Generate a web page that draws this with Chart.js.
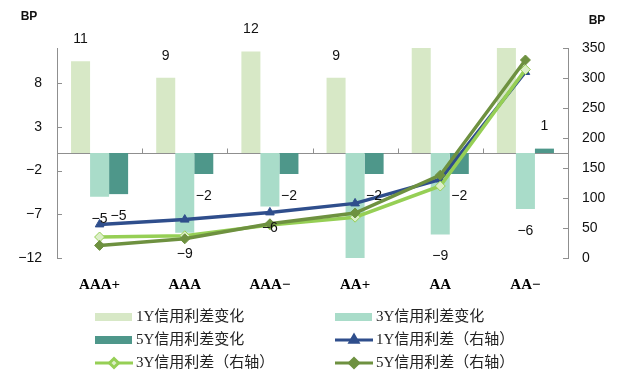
<!DOCTYPE html>
<html>
<head>
<meta charset="utf-8">
<script src="https://cdn.jsdelivr.net/npm/chart.js@4.4.1/dist/chart.umd.min.js"></script>
<style>
    html, body { margin: 0; padding: 0; background: #fff; }
    #myChart { display: block; width: 618px; height: 372px; }
</style>
</head>
<body>
<canvas id="myChart" width="618" height="372"></canvas>
<script>
// CATEGORIAS (GRADO DE CALIFICACION)
const categorias = ['AAA+', 'AAA', 'AAA−', 'AA+', 'AA', 'AA−'];

// BARRAS: CAMBIO DE DIFERENCIAL (BP, EJE IZQUIERDO)
const cambio1Y = [10.5, 8.6, 11.6, 8.6, 16, 15];
const cambio3Y = [-5.0, -9.1, -6.1, -13, -9.3, -6.4];
const cambio5Y = [-4.7, -2.4, -2.4, -2.4, -2.4, 0.5];

// LINEAS: DIFERENCIAL (BP, EJE DERECHO)
const spread1Y = [56, 64, 76, 91, 131, 310];
const spread3Y = [35, 37, 55, 68, 120, 314];
const spread5Y = [21, 32, 57, 75, 138, 330];

// TICKS DE LOS EJES
const ticksIzq = [-12, -7, -2, 3, 8];
const ejeIzqMin = -12, ejeIzqMax = 12;
const ejeDerMin = 0, ejeDerMax = 350, ejeDerPaso = 50;

// NOMBRES DE LAS SERIES
const nombres = {
    c1: '1Y信用利差变化',
    c3: '3Y信用利差变化',
    c5: '5Y信用利差变化',
    s1: '1Y信用利差（右轴）',
    s3: '3Y信用利差（右轴）',
    s5: '5Y信用利差（右轴）'
};

const fuenteNum = "'Liberation Sans', Arial, sans-serif";
const fuenteLeyenda = "'Liberation Serif', 'Noto Sans CJK SC', serif";
const grisEje = '#8f8f8f';

function menos(v) {
    return String(v).replace('-', '−');
}

// EJES: LINEA DEL CERO Y MARCAS HACIA DENTRO
const ejesPlugin = {
    id: 'ejes',
    beforeDatasetsDraw(chart) {
        const ctx = chart.ctx;
        const area = chart.chartArea;
        const y = chart.scales.y, y1 = chart.scales.y1, x = chart.scales.x;
        const y0 = Math.round(y.getPixelForValue(0)) + 0.5;
        ctx.save();
        ctx.strokeStyle = grisEje;
        ctx.lineWidth = 1;
        ctx.beginPath();
        ctx.moveTo(area.left, y0);
        ctx.lineTo(area.right, y0);
        // marcas entre categorias
        for (let i = 1; i < categorias.length; i++) {
            const px = Math.round((x.getPixelForValue(i - 1) + x.getPixelForValue(i)) / 2) + 0.5;
            ctx.moveTo(px, y0);
            ctx.lineTo(px, y0 - 5);
        }
        ticksIzq.forEach(v => {
            const py = Math.round(y.getPixelForValue(v)) + 0.5;
            ctx.moveTo(area.left, py);
            ctx.lineTo(area.left + 5, py);
        });
        y1.ticks.forEach(t => {
            const py = Math.round(y1.getPixelForValue(t.value)) + 0.5;
            ctx.moveTo(area.right, py);
            ctx.lineTo(area.right - 5, py);
        });
        ctx.stroke();
        ctx.restore();
    }
};

// ETIQUETAS DE LAS BARRAS
const etiquetasPlugin = {
    id: 'etiquetas',
    afterDatasetsDraw(chart) {
        const ctx = chart.ctx;
        const y = chart.scales.y;
        ctx.save();
        ctx.font = '14px ' + fuenteNum;
        ctx.fillStyle = '#111';
        ctx.textAlign = 'center';
        ctx.textBaseline = 'middle';
        chart.data.datasets.forEach((ds, i) => {
            if (ds.type !== 'bar') return;
            const meta = chart.getDatasetMeta(i);
            meta.data.forEach((bar, j) => {
                const v = ds.data[j];
                if (v > y.max || v < y.min) return; // fuera del eje, no se ve
                const ty = v >= 0 ? bar.y - 22 : bar.y + 22;
                ctx.fillText(menos(Math.round(v)), bar.x, ty);
            });
        });
        // unidades
        ctx.font = 'bold 12px ' + fuenteNum;
        ctx.fillText('BP', 29, 17);
        ctx.fillText('BP', 597, 21);
        ctx.restore();
    }
};

// LEYENDA EN DOS COLUMNAS
const ordenLeyenda = ['c1', 'c3', 'c5', 's1', 's3', 's5'];
const leyendaX = [95, 335];
const leyendaY = [317, 340, 363];

const leyendaPlugin = {
    id: 'leyenda',
    afterDraw(chart) {
        const ctx = chart.ctx;
        ctx.save();
        ordenLeyenda.forEach((clave, i) => {
            const ds = chart.data.datasets.find(d => d.clave === clave);
            const x = leyendaX[i % 2];
            const y = leyendaY[Math.floor(i / 2)];
            if (ds.type === 'bar') {
                ctx.fillStyle = ds.backgroundColor;
                ctx.fillRect(x, y - 4, 37, 8);
            } else {
                ctx.strokeStyle = ds.borderColor;
                ctx.lineWidth = 3;
                ctx.beginPath();
                ctx.moveTo(x, y);
                ctx.lineTo(x + 38, y);
                ctx.stroke();
                ctx.fillStyle = ds.pointBackgroundColor;
                ctx.strokeStyle = ds.pointBorderColor;
                Chart.helpers.drawPoint(ctx, {
                    pointStyle: ds.pointStyle,
                    radius: 4.5,
                    borderWidth: 1,
                    rotation: 0
                }, x + 19, y);
            }
            ctx.fillStyle = '#222';
            ctx.font = '15px ' + fuenteLeyenda;
            ctx.textAlign = 'left';
            ctx.textBaseline = 'middle';
            ctx.fillText(ds.label, x + 41, y);
        });
        ctx.restore();
    }
};

function linea(clave, datos, color, estilo, relleno, orden) {
    return {
        type: 'line',
        clave: clave,
        label: nombres[clave],
        data: datos,
        yAxisID: 'y1',
        borderColor: color,
        borderWidth: 3.5,
        tension: 0,
        pointStyle: estilo,
        pointRadius: 5,
        pointBorderWidth: 1,
        pointBackgroundColor: relleno,
        pointBorderColor: color,
        order: orden
    };
}

function barra(clave, datos, color) {
    return {
        type: 'bar',
        clave: clave,
        label: nombres[clave],
        data: datos,
        yAxisID: 'y',
        backgroundColor: color,
        borderWidth: 0,
        categoryPercentage: 0.67,
        barPercentage: 1.0,
        order: 5
    };
}

var ctx = document.getElementById('myChart').getContext('2d');

window.myChart = new Chart(ctx, {
    data: {
        labels: categorias,
        datasets: [
            barra('c1', cambio1Y, '#d7e8c6'),
            barra('c3', cambio3Y, '#a9dcc9'),
            barra('c5', cambio5Y, '#4e978a'),
            linea('s1', spread1Y, '#2f4e8c', 'triangle', '#2f4e8c', 2),
            linea('s3', spread3Y, '#96cf55', 'rectRot', '#dcefc8', 1),
            linea('s5', spread5Y, '#6e9140', 'rectRot', '#6e9140', 0)
        ]
    },
    options: {
        responsive: false,
        animation: false,
        devicePixelRatio: 1,
        layout: {
            padding: { top: 48, bottom: 60, left: 0, right: 0 }
        },
        plugins: {
            legend: { display: false },
            tooltip: { enabled: false }
        },
        scales: {
            x: {
                type: 'category',
                offset: true,
                grid: { display: false, drawTicks: false },
                border: { display: false },
                ticks: {
                    color: '#000',
                    padding: 18,
                    font: { family: "'Liberation Serif', serif", size: 15, weight: 'bold' }
                }
            },
            y: {
                position: 'left',
                min: ejeIzqMin,
                max: ejeIzqMax,
                afterBuildTicks: function (scale) {
                    scale.ticks = ticksIzq.map(v => ({ value: v }));
                },
                afterFit: function (scale) { scale.width = 57; },
                grid: { display: false, drawTicks: false },
                border: { display: true, color: grisEje, width: 1 },
                ticks: {
                    color: '#111',
                    padding: 15,
                    font: { family: fuenteNum, size: 14 },
                    callback: v => menos(v)
                }
            },
            y1: {
                position: 'right',
                min: ejeDerMin,
                max: ejeDerMax,
                afterFit: function (scale) { scale.width = 50; },
                grid: { display: false, drawTicks: false },
                border: { display: true, color: grisEje, width: 1 },
                ticks: {
                    stepSize: ejeDerPaso,
                    color: '#111',
                    padding: 14,
                    font: { family: fuenteNum, size: 14 }
                }
            }
        }
    },
    plugins: [ejesPlugin, etiquetasPlugin, leyendaPlugin]
});
</script>
</body>
</html>
